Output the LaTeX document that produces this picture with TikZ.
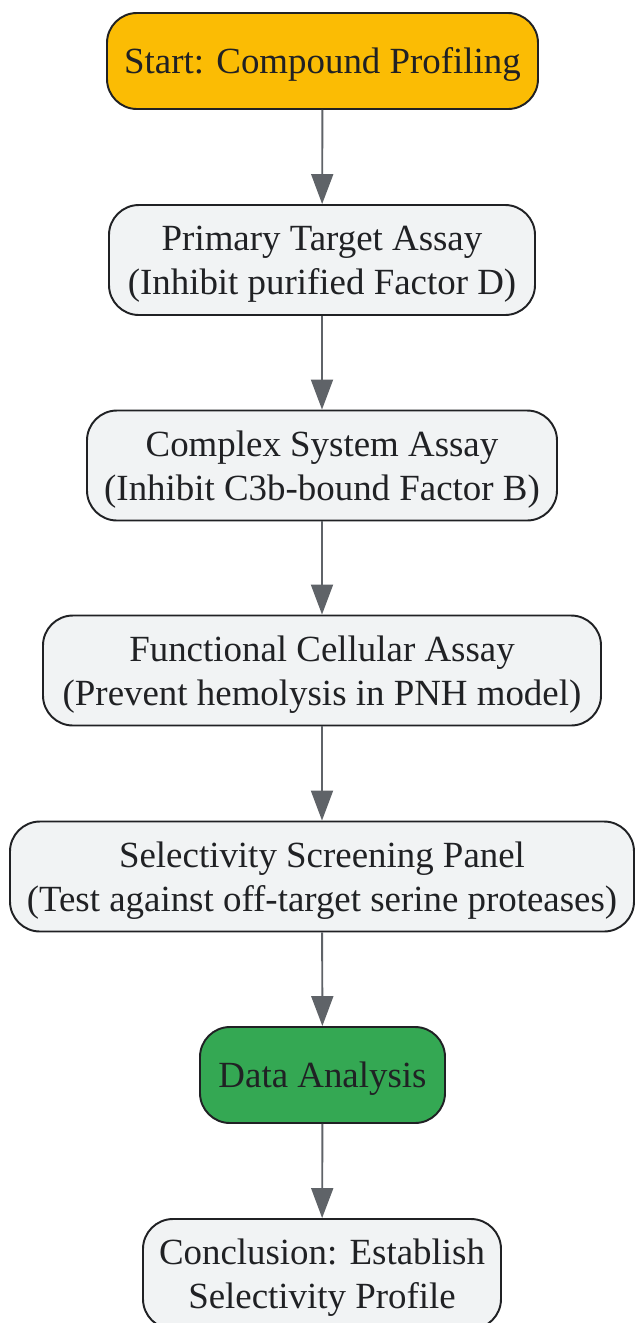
\documentclass[tikz,border=0pt]{standalone}
\usepackage{fontspec}
\setmainfont{Liberation Serif}
\usepackage{tikz}
\usetikzlibrary{arrows.meta}
\usetikzlibrary{shapes}
\definecolor{startyellow}{HTML}{FBBC04}
\definecolor{stepgray}{HTML}{F1F3F4}
\definecolor{analysisgreen}{HTML}{34A853}
\definecolor{edgegray}{HTML}{5F6368}
\definecolor{inkdark}{HTML}{202124}
\tikzstyle{stagebox}=[draw=inkdark, line width=1.1pt, rounded corners=0.6cm, align=center, inner xsep=0pt, text depth=0pt, text=inkdark, font=\fontsize{21}{25}\selectfont]
\tikzstyle{plainstage}=[stagebox, fill=stepgray, minimum height=2.2cm]
\tikzstyle{startstage}=[stagebox, fill=startyellow, minimum height=1.92cm]
\tikzstyle{greenstage}=[stagebox, fill=analysisgreen, minimum height=1.92cm]
\tikzstyle{flowarrow}=[draw=edgegray, line width=1.1pt, -{Triangle[length=0.6cm, width=0.44cm]}]
\begin{document}
\begin{tikzpicture}
		\useasboundingbox (0,0) rectangle (12.7,-26.46);
		\node[startstage, minimum width=8.62cm] (start) at (6.45,-1.22) {Start: Compound Profiling};
		\node[plainstage, minimum width=8.52cm] (primary) at (6.44,-5.2) {Primary Target Assay\\(Inhibit purified Factor D)};
		\node[plainstage, minimum width=9.4cm] (complex) at (6.44,-9.31) {Complex System Assay\\(Inhibit C3b-bound Factor B)};
		\node[plainstage, minimum width=11.16cm] (cellular) at (6.44,-13.41) {Functional Cellular Assay\\(Prevent hemolysis in PNH model)};
		\node[plainstage, minimum width=12.48cm] (selectivity) at (6.44,-17.53) {Selectivity Screening Panel\\(Test against off-target serine proteases)};
		\node[greenstage, minimum width=4.9cm] (analysis) at (6.45,-21.5) {Data Analysis};
		\node[plainstage, minimum width=7.16cm] (conclusion) at (6.44,-25.48) {Conclusion: Establish\\Selectivity Profile};
		\draw[flowarrow] (start) -- (primary);
		\draw[flowarrow] (primary) -- (complex);
		\draw[flowarrow] (complex) -- (cellular);
		\draw[flowarrow] (cellular) -- (selectivity);
		\draw[flowarrow] (selectivity) -- (analysis);
		\draw[flowarrow] (analysis) -- (conclusion);
	\end{tikzpicture}
\end{document}
